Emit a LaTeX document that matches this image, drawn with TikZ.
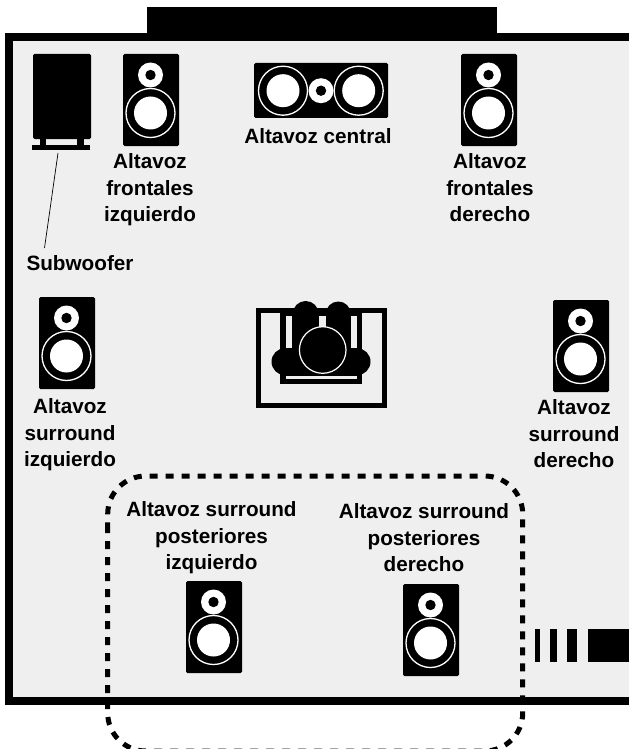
\documentclass[tikz,border=0pt]{standalone}
\usepackage{fontspec}
\setmainfont{Liberation Sans}
\definecolor{roomgray}{HTML}{EFEFEF}
\tikzset{
  lbl/.style={font=\fontsize{20.7}{26.5}\selectfont\bfseries, align=center, text=black, inner sep=0pt},
  spk/.pic={
    \fill[black, rounded corners=1.5pt] (0,0) rectangle (56,92);
    \fill[white] (27.5,21) circle (12.5);
    \fill[black] (27.5,21) circle (5.2);
    \draw[white, line width=1.3pt] (27.5,59) circle (24.5);
    \fill[white] (27.5,59) circle (16.5);
  }
}
\begin{document}
\begin{tikzpicture}[x=1pt,y=-1pt]
\useasboundingbox (0,0) rectangle (629,749);
\fill[white] (0,0) rectangle (629,749);
% room
\fill[black] (5,33) rectangle (629,705);
\fill[roomgray] (13,41) rectangle (629,697);
\fill[black] (147,7) rectangle (497,41);
% bars
\fill[black] (535,629) rectangle (540,662);
\fill[black] (550,629) rectangle (557,662);
\fill[black] (567,629) rectangle (577,662);
\fill[black] (588,629) rectangle (629,662);
% subwoofer
\fill[black, rounded corners=1.5pt] (33,54) rectangle (91,139);
\fill[black] (40,138) rectangle (46,145);
\fill[black] (77,138) rectangle (84,145);
\fill[black] (32,145) rectangle (89.5,150);
\coordinate (swtop) at (58,153);
\node[lbl] (sw) at (80,263) {Subwoofer};
\coordinate (swbot) at (44.5,248);
\draw[black, line width=0.7pt] (swtop) -- (swbot);
% speakers
\pic at (123,54) {spk};
\pic at (461,54) {spk};
\pic at (39,297) {spk};
\pic at (553,300) {spk};
\pic at (186,581) {spk};
\pic at (403,584) {spk};
% centre speaker
\fill[black, rounded corners=1.5pt] (254,63) rectangle (388,118);
\draw[white, line width=1.3pt] (283,90.7) circle (24.5);
\fill[white] (283,90.7) circle (16.5);
\draw[white, line width=1.3pt] (358.7,90.7) circle (24.5);
\fill[white] (358.7,90.7) circle (16.5);
\fill[white] (321,90.7) circle (12.5);
\fill[black] (321,90.7) circle (5.2);
% labels
\node[lbl] (c) at (318,136.5) {Altavoz central};
\node[lbl] (fl) at (150,190) {Altavoz\\frontales\\izquierdo};
\node[lbl] (fr) at (490,188) {Altavoz\\frontales\\derecho};
\node[lbl] (sl) at (70,435) {Altavoz\\surround\\izquierdo};
\node[lbl] (sr) at (574,434) {Altavoz\\surround\\derecho};
\node[lbl] (rl) at (211.5,538) {Altavoz surround\\posteriores\\izquierdo};
\node[lbl] (rr) at (424,538) {Altavoz surround\\posteriores\\derecho};
% sofa
\draw[black, line width=5pt] (258.2,310.8) rectangle (384.8,405.8);
\fill[black] (280.3,313) rectangle (362.3,384.3);
\fill[black] (285,361.7) circle (13.5) (357,361.7) circle (13.5);
\fill[black] (305.7,314) circle (13) (338.3,314) circle (12.5);
\fill[roomgray] (285.7,316) rectangle (292.3,348.3);
\fill[roomgray] (350.7,316) rectangle (357.3,348.3);
\fill[roomgray] (319,316) rectangle (326,330);
\fill[roomgray] (285.7,376) rectangle (357.3,379.3);
\fill[black] (322.7,350) circle (23.3);
\draw[white, line width=1.2pt] (322.7,350) circle (23.3);
% dashed group
\draw[black, line width=5pt, dash pattern=on 8pt off 8pt, rounded corners=38pt]
  (107.7,525) -- (107.7,751) -- (522.7,751) -- (522.7,476) -- (107.7,476) -- (107.7,525);
\end{tikzpicture}
\end{document}
